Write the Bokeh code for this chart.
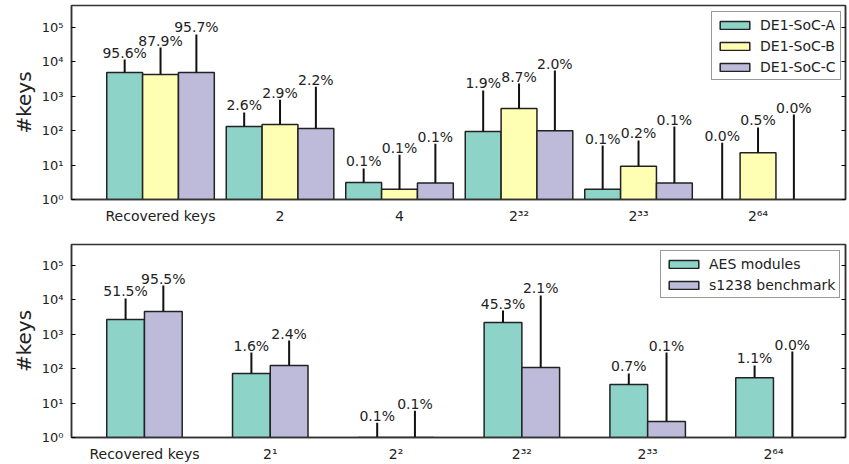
from bokeh.plotting import figure
from bokeh.layouts import column
from bokeh.models import (Range1d, LogAxis, FixedTicker, CustomJSTickFormatter,
                          Legend, LegendItem, ColumnDataSource)
from bokeh.embed import file_html
from bokeh.resources import INLINE
from bokeh.core.properties import value

# ---------------- data ----------------
top_categories = ["Recovered keys", "2", "4", "2³²", "2³³", "2⁶⁴"]
top_series = ["DE1-SoC-A", "DE1-SoC-B", "DE1-SoC-C"]
top_a_keys = [4900, 132, 3.1, 95, 2, 0]
top_a_err = [6800, 208, 4.9, 1385, 35, 45]
top_a_pct = [95.6, 2.6, 0.1, 1.9, 0.1, 0.0]
top_b_keys = [4300, 151, 2, 445, 9.3, 23]
top_b_err = [21700, 649, 18, 1905, 42.7, 101]
top_b_pct = [87.9, 2.9, 0.1, 8.7, 0.2, 0.5]
top_c_keys = [4900, 115, 3, 100, 3, 0]
top_c_err = [58100, 1785, 39, 5500, 129, 295]
top_c_pct = [95.7, 2.2, 0.1, 2.0, 0.1, 0.0]

bottom_categories = ["Recovered keys", "2¹", "2²", "2³²", "2³³", "2⁶⁴"]
bottom_series = ["AES modules", "s1238 benchmark"]
aes_keys = [2700, 73, 1, 2200, 35, 55]
aes_err = [8300, 222, 1.7, 2700, 38, 69]
aes_pct = [51.5, 1.6, 0.1, 45.3, 0.7, 1.1]
s1238_keys = [4600, 124, 1, 108, 2.9, 0]
s1238_err = [21400, 536, 5, 13392, 292, 316]
s1238_pct = [95.5, 2.4, 0.1, 2.1, 0.1, 0.0]

y_ticks = [1, 10, 100, 1000, 10000, 100000]

TEAL, YELLOW, PURPLE = "#8dd3c7", "#ffffb3", "#bebada"
FONT = "DejaVu Sans"
INK = "#222222"

SUP_CODE = """
const sup = {'0':'⁰','1':'¹','2':'²','3':'³','4':'⁴','5':'⁵','6':'⁶','7':'⁷','8':'⁸','9':'⁹','-':'⁻'};
const e = Math.round(Math.log10(tick));
return '10' + String(e).split('').map(c => sup[c]).join('');
"""

FRAME_W = 774


def make_panel(categories, names, keys_list, err_list, pct_list, colors, offsets,
               x_start, x_end, height, y_top, border_top, border_bottom,
               label_standoff, legend_loc):
    p = figure(width=849, height=height,
               x_range=Range1d(x_start, x_end), y_range=Range1d(1, y_top),
               y_axis_type="log", output_backend="svg", toolbar_location=None,
               min_border_left=71, min_border_right=4,
               min_border_top=border_top, min_border_bottom=border_bottom)
    p.grid.visible = False
    p.outline_line_color = "#333333"
    p.outline_line_width = 1.5
    p.background_fill_color = "white"
    p.border_fill_color = "white"

    # x axis
    xa = p.xaxis[0]
    xa.ticker = FixedTicker(ticks=list(range(len(categories))))
    xa.formatter = CustomJSTickFormatter(args=dict(labels=categories),
                                         code="return labels[Math.round(tick)] ?? '';")
    xa.major_tick_in = 0
    xa.major_tick_out = 0
    xa.minor_tick_in = 0
    xa.minor_tick_out = 0
    xa.major_label_standoff = label_standoff
    xa.major_label_text_font = FONT
    xa.major_label_text_font_size = "14px"
    xa.major_label_text_color = INK
    xa.axis_line_color = "#333333"
    xa.axis_line_width = 1.5

    # y axis
    ya = p.yaxis[0]
    ya.ticker = FixedTicker(ticks=y_ticks)
    ya.formatter = CustomJSTickFormatter(code=SUP_CODE)
    ya.major_tick_in = 4
    ya.major_tick_out = 0
    ya.minor_tick_in = 0
    ya.minor_tick_out = 0
    ya.major_label_standoff = 8
    ya.major_label_text_font = FONT
    ya.major_label_text_font_size = "13px"
    ya.major_label_text_color = INK
    ya.axis_label = "#keys"
    ya.axis_label_text_font = FONT
    ya.axis_label_text_font_size = "20px"
    ya.axis_label_text_font_style = "normal"
    ya.axis_label_text_color = INK
    ya.axis_label_standoff = 3
    ya.axis_line_color = "#333333"
    ya.axis_line_width = 1.5

    ra = LogAxis(ticker=FixedTicker(ticks=y_ticks),
                 formatter=CustomJSTickFormatter(code="return '';"),
                 major_tick_in=4, major_tick_out=0, minor_tick_in=0, minor_tick_out=0,
                 major_label_standoff=0, axis_line_color="#333333", axis_line_width=1.5)
    p.add_layout(ra, "right")

    items = []
    for keys, errs, pcts, color, off, name in zip(keys_list, err_list, pct_list,
                                                  colors, offsets, names):
        xs = [i + off for i in range(len(keys))]
        bx = [x for x, k in zip(xs, keys) if k > 0]
        bt = [k for k in keys if k > 0]
        src = ColumnDataSource(dict(x=bx, top=bt, bottom=[1] * len(bt)))
        r = p.vbar(x="x", top="top", bottom="bottom", width=0.3, source=src,
                   fill_color=color, line_color="#222222", line_width=1.5)
        items.append(LegendItem(label=name, renderers=[r]))

        e0 = [max(k, 1) for k in keys]
        e1 = [k + e for k, e in zip(keys, errs)]
        p.segment(x0=xs, y0=e0, x1=xs, y1=e1, line_color="#111111", line_width=2)
        p.text(x=xs, y=e1, text=[f"{v:.1f}%" for v in pcts],
               text_align="center", text_baseline="bottom",
               text_font=value(FONT), text_font_size="14px", text_color=INK,
               y_offset=1)

    legend = Legend(items=items, location=legend_loc, margin=0,
                    padding=4, spacing=4, glyph_width=37, glyph_height=10,
                    label_height=17, label_standoff=7,
                    label_text_font=FONT, label_text_font_size="14px",
                    label_text_color=INK, border_line_color="#333333",
                    border_line_width=1.2, background_fill_alpha=1.0)
    p.add_layout(legend)
    return p


p1 = make_panel(top_categories, top_series,
                [top_a_keys, top_b_keys, top_c_keys],
                [top_a_err, top_b_err, top_c_err],
                [top_a_pct, top_b_pct, top_c_pct],
                [TEAL, YELLOW, PURPLE], [-0.3, 0.0, 0.3],
                -0.745, -0.745 + FRAME_W / 119.5, 236, 10 ** (194 / 34.4), 5, 37,
                8, (640, 119))

p2 = make_panel(bottom_categories, bottom_series,
                [aes_keys, s1238_keys],
                [aes_err, s1238_err],
                [aes_pct, s1238_pct],
                [TEAL, PURPLE], [-0.15, 0.15],
                -0.58, -0.58 + FRAME_W / 125.8, 228, 10 ** (193 / 34.4), 8, 27,
                8, (589, 139))

layout = column(p1, p2, spacing=0)
open("out.html", "w").write(file_html(layout, INLINE))
